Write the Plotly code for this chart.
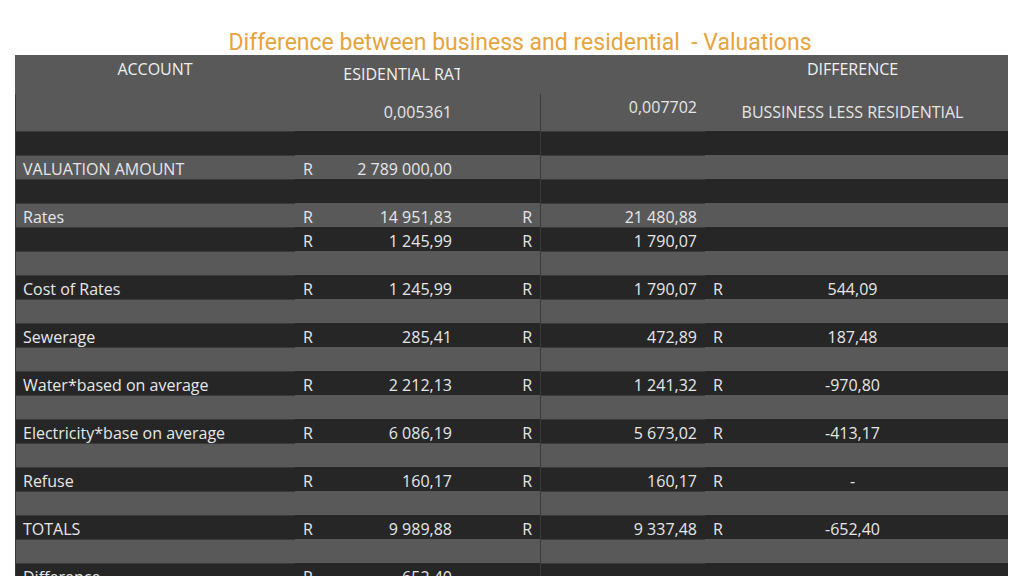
import plotly.graph_objects as go

# table data, one list per column
accounts = ["", "", "VALUATION AMOUNT", "", "Rates", "", "", "Cost of Rates", "",
            "Sewerage", "", "Water*based on average", "", "Electricity*base on average", "",
            "Refuse", "", "TOTALS", "", "Difference", ""]
res_r = ["", "", "R", "", "R", "R", "", "R", "", "R", "", "R", "", "R", "", "R", "", "R", "", "R", ""]
residential = ["", "", "2 789 000,00", "", "14 951,83", "1 245,99", "", "1 245,99", "",
               "285,41", "", "2 212,13", "", "6 086,19", "", "160,17", "", "9 989,88", "", "652,40", ""]
bus_r = ["", "", "", "", "R", "R", "", "R", "", "R", "", "R", "", "R", "", "R", "", "R", "", "", ""]
business = ["0,007702", "", "", "", "21 480,88", "1 790,07", "", "1 790,07", "",
            "472,89", "", "1 241,32", "", "5 673,02", "", "160,17", "", "9 337,48", "", "", ""]
diff_r = ["", "", "", "", "", "", "", "R", "", "R", "", "R", "", "R", "", "R", "", "R", "", "", ""]
difference = ["BUSSINESS&nbsp;LESS&nbsp;RESIDENTIAL", "", "", "", "", "", "", "544,09", "",
              "187,48", "", "-970,80", "", "-413,17", "", "-", "", "-652,40", "", "", ""]
res_rate = "&nbsp;" * 14 + "0,005361"

GRAY, DARK = "#595959", "#262626"
row_fill = [GRAY] + [DARK if i % 2 == 0 else GRAY for i in range(len(accounts) - 1)]

res_col = [res_rate] + residential[1:]
cols = [accounts, res_r, res_col, bus_r, business, diff_r, difference, [""] * len(accounts)]
widths = [280, 50, 115, 80, 165, 35, 225, 42]

# borders only where the reference shows them (after account and business columns)
line_cols = [["#3a3a3a"] * len(accounts) if i in (0, 4) else row_fill for i in range(len(cols))]

fig = go.Figure(go.Table(
    columnwidth=widths,
    header=dict(
        values=["ACCOUNT", "", "RESIDENTIAL&nbsp;RATE", "", "", "", "DIFFERENCE", ""],
        fill_color=GRAY, line_color=GRAY, height=25,
        align=["center", "left", "center", "left", "right", "left", "center", "left"],
        font=dict(family="Open Sans", size=16, color="#f0f0f0"),
    ),
    cells=dict(
        values=cols,
        fill_color=[row_fill] * len(cols),
        line=dict(color=line_cols, width=1),
        height=24,
        align=["left", "left", "right", "right", "right", "left", "center", "left"],
        font=dict(family="Open Sans", size=16, color="#e6e6e6"),
    ),
    domain=dict(x=[7 / 1024, 999 / 1024], y=[0, 1 - 47 / 576]),
))

fig.update_layout(
    width=1024, height=576,
    margin=dict(l=0, r=0, t=0, b=0),
    paper_bgcolor="white",
    title=dict(text="Difference between business and residential  - Valuations",
               x=0.5, y=0.955, xanchor="center",
               font=dict(family="Roboto", size=23, color="#E8A33C")),
)

fig.write_html("out.html")
